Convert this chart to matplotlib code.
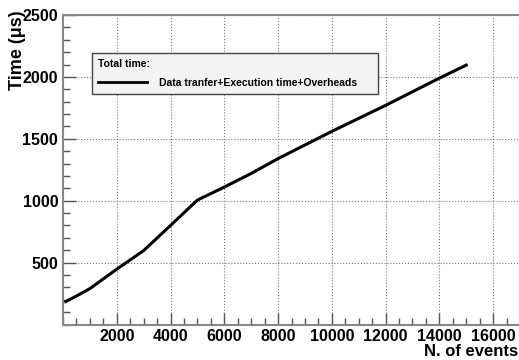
import numpy as np
import matplotlib.pyplot as plt
from matplotlib.ticker import MultipleLocator

plt.rcParams['font.family'] = ['Liberation Sans', 'DejaVu Sans']
plt.rcParams['font.weight'] = 'bold'

# total time vs number of events
n_events = [100, 500, 1000, 2000, 3000, 4000, 5000, 6000, 7000, 8000,
            9000, 10000, 11000, 12000, 13000, 14000, 15000]
time_us = [185, 230, 290, 447, 597, 800, 1005, 1110, 1220, 1340,
           1450, 1560, 1665, 1770, 1880, 1990, 2095]

fig = plt.figure(figsize=(5.19, 3.6), dpi=100)
ax = fig.add_axes([63 / 519, 35.5 / 360, 457 / 519, 309.5 / 360])

ax.plot(n_events, time_us, color='black', lw=2.2,
        label='Data tranfer+Execution time+Overheads')

ax.set_xlim(0, 17000)
ax.set_ylim(0, 2500)
ax.xaxis.set_minor_locator(MultipleLocator(500))
ax.yaxis.set_minor_locator(MultipleLocator(100))
ax.set_xticks([2000, 4000, 6000, 8000, 10000, 12000, 14000, 16000])
ax.set_yticks([500, 1000, 1500, 2000, 2500])

ax.grid(True, which='major', ls=':', color='#777777', lw=0.8)
ax.tick_params(which='both', direction='in', color='#555555',
               labelsize=11.5, top=False, right=False)
ax.tick_params(which='major', length=9, width=1)
ax.tick_params(which='minor', length=5, width=1)
for lab in ax.get_xticklabels() + ax.get_yticklabels():
    lab.set_fontweight('bold')
for s in ax.spines.values():
    s.set_color('#888888')
    s.set_linewidth(1.5)

fig.text(518 / 519, 1 - 352 / 360, 'N. of events', ha='right', va='center',
         fontsize=12, fontweight='bold')
fig.text(17 / 519, 1 - 10 / 360, 'Time (μs)', ha='center', va='top',
         rotation=90, fontsize=13, fontweight='bold')

leg = ax.legend(title='Total time:', loc='upper left',
                bbox_to_anchor=(92 / 519, 1 - 53 / 360, 286 / 519, 0.001),
                bbox_transform=fig.transFigure, mode='expand',
                prop={'size': 7.5, 'weight': 'bold'},
                title_fontproperties={'size': 7.5, 'weight': 'bold'},
                alignment='left', fancybox=False, framealpha=1,
                edgecolor='#444444', facecolor='#f3f3f3',
                handlelength=4.7, handletextpad=1.1, borderaxespad=0,
                borderpad=0.6, labelspacing=0.85)
leg.get_frame().set_linewidth(1.0)
leg.get_lines()[0].set_linewidth(2.0)

fig.savefig('out.png', dpi=100)
